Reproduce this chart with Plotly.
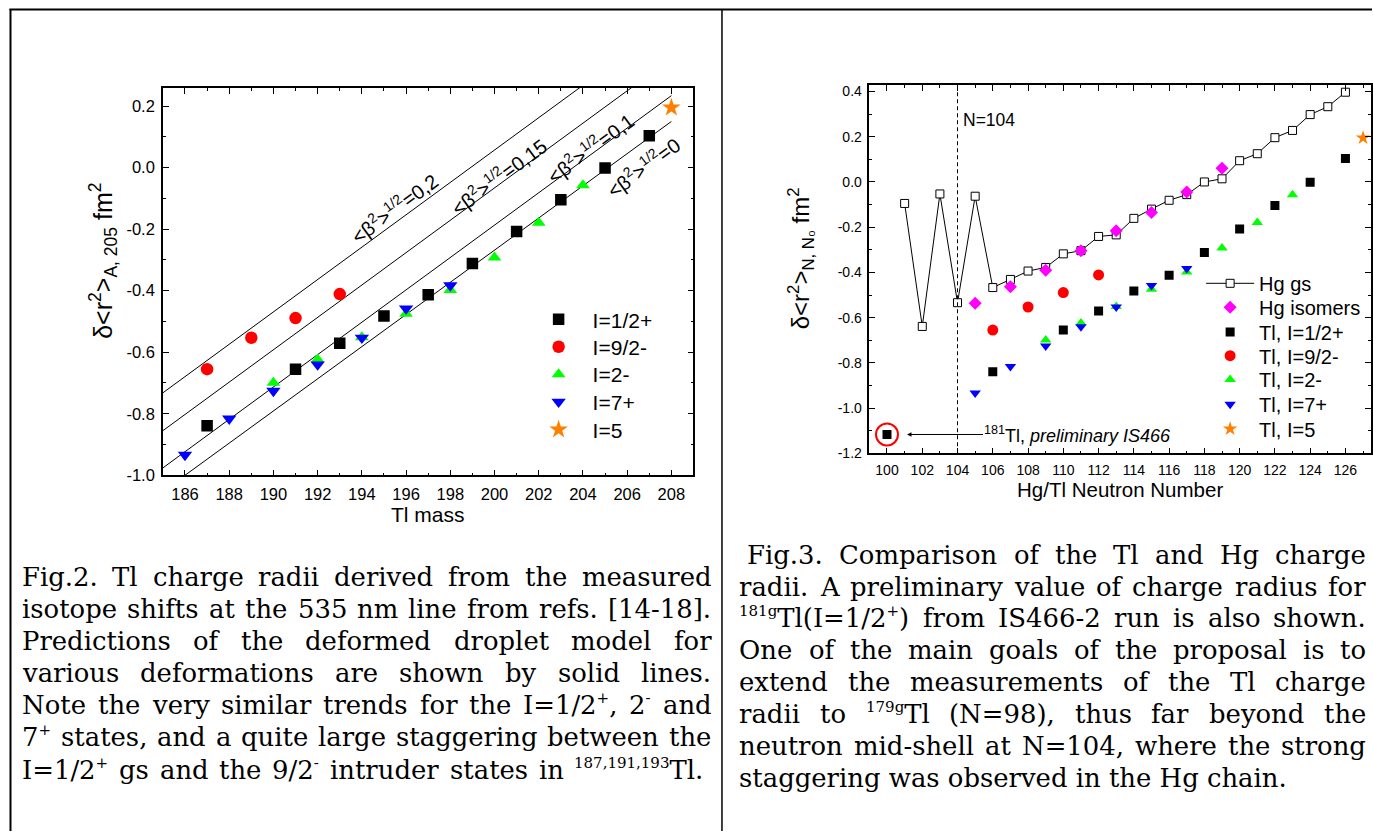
import re
import plotly.graph_objects as go

W, H = 1373, 840


def px(x):
    return x / W


def py(y):
    return 1 - y / H


# ---------------- data ----------------
Z_TL = 81  # proton number of Tl (N = A - Z)

tl_half_A = [187, 191, 193, 195, 197, 199, 201, 203, 205, 207]
tl_half_v = [-0.839, -0.655, -0.571, -0.482, -0.413, -0.312, -0.208, -0.104, -0.001, 0.104]
tl_92_A = [187, 189, 191, 193]
tl_92_v = [-0.655, -0.553, -0.489, -0.411]
tl_2m_A = [190, 192, 194, 196, 198, 200, 202, 204]
tl_2m_v = [-0.699, -0.624, -0.551, -0.475, -0.398, -0.292, -0.179, -0.057]
tl_7p_A = [186, 188, 190, 192, 194, 196, 198]
tl_7p_v = [-0.934, -0.816, -0.726, -0.640, -0.553, -0.458, -0.383]
tl_5_A = [208]
tl_5_v = [0.195]
tl181_A = [181]
tl181_v = [-1.117]

hg_gs_N = [101, 102, 103, 104, 105, 106, 107, 108, 109, 110, 111, 112, 113,
           114, 115, 116, 117, 118, 119, 120, 121, 122, 123, 124, 125, 126]
hg_gs_v = [-0.095, -0.639, -0.053, -0.534, -0.063, -0.467, -0.431, -0.394, -0.378,
           -0.318, -0.304, -0.241, -0.234, -0.161, -0.120, -0.081, -0.056, 0.000,
           0.014, 0.094, 0.125, 0.196, 0.228, 0.298, 0.333, 0.397]
hg_iso_N = [105, 107, 109, 111, 113, 115, 117, 119]
hg_iso_v = [-0.537, -0.463, -0.390, -0.304, -0.216, -0.135, -0.044, 0.061]

# deformed droplet model lines (<beta^2>^1/2 = 0.2, 0.15, 0.1, 0)
beta_names = ["0,2", "0,15", "0,1", "0"]
beta_x = [185, 208]
beta_y = [[-0.732, 0.478], [-0.855, 0.355], [-0.976, 0.234], [-1.0523, 0.150]]

left_x_ticks = [186, 188, 190, 192, 194, 196, 198, 200, 202, 204, 206, 208]
left_y_ticks = [-1.0, -0.8, -0.6, -0.4, -0.2, 0.0, 0.2]
left_y_text = ["-1.0", "-0.8", "-0.6", "-0.4", "-0.2", "0.0", "0.2"]
right_x_ticks = [100, 102, 104, 106, 108, 110, 112, 114, 116, 118, 120, 122, 124, 126]
right_y_ticks = [-1.2, -1.0, -0.8, -0.6, -0.4, -0.2, 0.0, 0.2, 0.4]
right_y_text = ["-1.2", "-1.0", "-0.8", "-0.6", "-0.4", "-0.2", "0.0", "0.2", "0.4"]

left_labels = ["I=1/2+", "I=9/2-", "I=2-", "I=7+", "I=5"]
right_labels = ["Hg gs", "Hg isomers", "Tl, I=1/2+", "Tl, I=9/2-", "Tl, I=2-", "Tl, I=7+", "Tl, I=5"]

left_caption = [
    "Fig.2. Tl charge radii derived from the measured",
    "isotope shifts at the 535 nm line from refs. [14-18].",
    "Predictions of the deformed droplet model for",
    "various deformations are shown by solid lines.",
    "Note the very similar trends for the I=1/2<sup>+</sup>, 2<sup>-</sup> and",
    "7<sup>+</sup> states, and a quite large staggering between the",
    "I=1/2<sup>+</sup> gs and the 9/2<sup>-</sup> intruder states in <sup>187,191,193</sup>Tl.",
]
right_caption = [
    "Fig.3. Comparison of the Tl and Hg charge",
    "radii. A preliminary value of charge radius for",
    "<sup>181g</sup>Tl(I=1/2<sup>+</sup>) from IS466-2 run is also shown.",
    "One of the main goals of the proposal is to",
    "extend the measurements of the Tl charge",
    "radii to <sup>179g</sup>Tl (N=98), thus far beyond the",
    "neutron mid-shell at N=104, where the strong",
    "staggering was observed in the Hg chain.",
]

# ---------------- styles ----------------
SANS = "Liberation Sans, Arial, sans-serif"
SERIF = "DejaVu Serif, serif"
BLACK = "#000000"

fig = go.Figure()

for nm, ys in zip(beta_names, beta_y):
    fig.add_trace(go.Scatter(x=beta_x, y=ys, mode="lines", line=dict(color=BLACK, width=1),
                             showlegend=False, hoverinfo="skip", xaxis="x", yaxis="y"))

tl_series = [
    (tl_half_A, tl_half_v, "square", "#000000"),
    (tl_92_A, tl_92_v, "circle", "#ff0000"),
    (tl_2m_A, tl_2m_v, "triangle-up", "#00ff00"),
    (tl_7p_A, tl_7p_v, "triangle-down", "#0000ff"),
    (tl_5_A, tl_5_v, "star", "#ff8000"),
]
# one legend per entry so that every row sits where the reference has it
left_leg_y = [322.5, 350.3, 378, 406, 434]
right_leg_y = [285.7, 310, 335, 359, 383, 408, 433]
legends = {}

left_sizes = [11.5, 12.5, 12, 12.5, 14]
for k, ((A, v, sym, col), lab, sz) in enumerate(zip(tl_series, left_labels, left_sizes)):
    lname = "legend" if k == 0 else "legend%d" % (k + 1)
    legends[lname] = dict(x=px(525), y=py(left_leg_y[k]), xanchor="left", yanchor="middle",
                          itemwidth=58, font=dict(family=SANS, size=21, color=BLACK),
                          bgcolor="rgba(0,0,0,0)", borderwidth=0)
    fig.add_trace(go.Scatter(x=A, y=v, mode="markers", name=lab,
                             marker=dict(symbol=sym, color=col, size=sz, line=dict(width=0)),
                             xaxis="x", yaxis="y", legend=lname))


def rlegend(k):
    lname = "legend%d" % (k + 6)
    legends[lname] = dict(x=px(1202), y=py(right_leg_y[k]), xanchor="left", yanchor="middle",
                          itemwidth=48, font=dict(family=SANS, size=20, color=BLACK),
                          bgcolor="rgba(0,0,0,0)", borderwidth=0)
    return lname


# right panel
fig.add_trace(go.Scatter(x=hg_gs_N, y=hg_gs_v, mode="lines+markers", name=right_labels[0],
                         line=dict(color=BLACK, width=1),
                         marker=dict(symbol="square", color="white", size=8,
                                     line=dict(color=BLACK, width=1)),
                         xaxis="x2", yaxis="y2", legend=rlegend(0)))
fig.add_trace(go.Scatter(x=hg_iso_N, y=hg_iso_v, mode="markers", name=right_labels[1],
                         marker=dict(symbol="diamond", color="#ff00ff", size=10, line=dict(width=0)),
                         xaxis="x2", yaxis="y2", legend=rlegend(1)))
right_sizes = [9, 11, 10, 10, 11]
for i, ((A, v, sym, col), sz) in enumerate(zip(tl_series, right_sizes)):
    N = [a - Z_TL for a in A]
    vv = list(v)
    if i == 0:
        N = [a - Z_TL for a in tl181_A] + N
        vv = list(tl181_v) + vv
    fig.add_trace(go.Scatter(x=N, y=vv, mode="markers", name=right_labels[i + 2],
                             marker=dict(symbol=sym, color=col, size=sz, line=dict(width=0)),
                             xaxis="x2", yaxis="y2", legend=rlegend(i + 2)))
# red ring around the preliminary 181Tl point
fig.add_trace(go.Scatter(x=[a - Z_TL for a in tl181_A], y=tl181_v, mode="markers", showlegend=False,
                         marker=dict(symbol="circle-open", color="#ff0000", size=22, line=dict(width=2)),
                         xaxis="x2", yaxis="y2", hoverinfo="skip"))


def axis(**kw):
    d = dict(showline=True, linecolor=BLACK, linewidth=1.5, mirror="allticks", ticks="inside",
             ticklen=6, tickwidth=1.2, tickcolor=BLACK, showgrid=False, zeroline=False,
             ticklabelstandoff=3)
    d.update(kw)
    return d


fig.update_layout(
    width=W, height=H, autosize=False,
    margin=dict(l=0, r=0, t=0, b=0, pad=0),
    paper_bgcolor="white", plot_bgcolor="white",
    font=dict(family=SANS, color=BLACK),
    xaxis=axis(domain=[px(163), px(694)], range=[185, 209], anchor="y",
               tickmode="array", tickvals=left_x_ticks,
               tickfont=dict(family=SANS, size=16.5, color=BLACK),
               minor=dict(ticks="inside", ticklen=3, tickwidth=1.2, tickcolor=BLACK,
                          tickmode="array", tickvals=[t + 1 for t in left_x_ticks])),
    yaxis=axis(domain=[py(480), py(88)], range=[-1.0, 0.259], anchor="x",
               tickmode="array", tickvals=left_y_ticks, ticktext=left_y_text,
               tickfont=dict(family=SANS, size=16.5, color=BLACK),
               minor=dict(ticks="inside", ticklen=3, tickwidth=1.2, tickcolor=BLACK,
                          tickmode="array", tickvals=[round(t + 0.1, 2) for t in left_y_ticks])),
    xaxis2=axis(domain=[px(870), px(1372)], range=[99, 127.45], anchor="y2",
                tickmode="array", tickvals=right_x_ticks,
                tickfont=dict(family=SANS, size=14, color=BLACK),
                minor=dict(ticks="inside", ticklen=3, tickwidth=1.2, tickcolor=BLACK,
                           tickmode="array", tickvals=[t + 1 for t in right_x_ticks])),
    yaxis2=axis(domain=[py(457.7), py(85)], range=[-1.2, 0.429], anchor="x2",
                tickmode="array", tickvals=right_y_ticks, ticktext=right_y_text,
                tickfont=dict(family=SANS, size=14, color=BLACK),
                minor=dict(ticks="inside", ticklen=3, tickwidth=1.2, tickcolor=BLACK,
                           tickmode="array", tickvals=[round(t + 0.1, 2) for t in right_y_ticks])),
)
fig.update_layout(**legends)

ann = []


def note(text, x, y, size, angle=0, xanchor="center", yanchor="middle", **kw):
    d = dict(text=text, x=x, y=y, xref="paper", yref="paper", showarrow=False, textangle=angle,
             xanchor=xanchor, yanchor=yanchor, font=dict(family=SANS, size=size, color=BLACK))
    d.update(kw)
    ann.append(d)


# beta line labels
beta_lab_pos = [(394, 209), (499, 177), (590, 148), (643, 167)]
for nm, (bx, by) in zip(beta_names, beta_lab_pos):
    note("&lt;β<sup>2</sup>&gt;<sup>1/2</sup>=" + nm, px(bx), py(by), 20, angle=-36.5)
# axis titles
note("δ&lt;r<sup>2</sup>&gt;<sub>A, 205</sub> fm<sup>2</sup>", px(103), py(263), 25, angle=-90)
note("Tl mass", px(428), py(520), 21)
note("δ&lt;r<sup>2</sup>&gt;<sub>N, N₀</sub> fm<sup>2</sup>", px(801), py(260), 24, angle=-90)
note("Hg/Tl Neutron Number", px(1121), py(494), 20.5)
# right panel notes
ann.append(dict(text="N=104", x=104.2, y=0.273, xref="x2", yref="y2", xanchor="left", yanchor="middle",
                showarrow=False, font=dict(family=SANS, size=17.5, color=BLACK)))
ann.append(dict(text="<sup>181</sup>Tl, <i>preliminary IS466</i>", x=100, y=tl181_v[0],
                xref="x2", yref="y2", showarrow=True, ax=191, ay=0, standoff=20,
                arrowhead=2, arrowsize=0.9, arrowwidth=1, arrowcolor=BLACK,
                font=dict(family=SANS, size=18, color=BLACK)))

# ---------------- captions (justified, word by word) ----------------
DV = {' ': .318, 'a': .596, 'b': .640, 'c': .560, 'd': .640, 'e': .592, 'f': .370, 'g': .640,
      'h': .644, 'i': .320, 'j': .310, 'k': .607, 'l': .320, 'm': .948, 'n': .644, 'o': .602,
      'p': .640, 'q': .640, 'r': .478, 's': .513, 't': .402, 'u': .644, 'v': .565, 'w': .856,
      'x': .564, 'y': .565, 'z': .527, '.': .318, ',': .318, '-': .338, '(': .390, ')': .390,
      '[': .390, ']': .390, '=': .838, '/': .337, '+': .838,
      'A': .722, 'B': .735, 'C': .765, 'D': .802, 'E': .730, 'F': .694, 'G': .799, 'H': .872,
      'I': .395, 'J': .401, 'K': .747, 'L': .664, 'M': 1.024, 'N': .875, 'O': .820, 'P': .673,
      'Q': .820, 'R': .753, 'S': .685, 'T': .667, 'U': .843, 'V': .722, 'W': 1.028, 'X': .712,
      'Y': .660, 'Z': .695}
for d in "0123456789":
    DV[d] = .636

CAP_SIZE = 25.9
SUP_SIZE = 15


def word_width(s, size):
    w = 0.0
    for part in re.split(r"(<sup>.*?</sup>)", s):
        if part.startswith("<sup>"):
            w += sum(DV.get(c, .6) for c in part[5:-6]) * SUP_SIZE
        else:
            w += sum(DV.get(c, .6) for c in part) * size
    return w


def small_sup(s):
    return re.sub(r"<sup>(.*?)</sup>",
                  lambda m: '<sup><span style="font-size:%dpx">%s</span></sup>' % (SUP_SIZE, m.group(1)), s)


def add_caption(lines, x0, x1, first_x0, bottom0, step, last_end=None):
    for k, line in enumerate(lines):
        yb = bottom0 + k * step
        left = first_x0 if k == 0 else x0
        words = line.split(" ")
        right = x1
        if k == len(lines) - 1:
            if last_end is None:
                ann.append(dict(text=small_sup(line), x=px(left), y=py(yb), xref="paper", yref="paper",
                                xanchor="left", yanchor="bottom", showarrow=False, borderpad=0,
                                font=dict(family=SERIF, size=CAP_SIZE, color=BLACK)))
                continue
            right = last_end
        widths = [word_width(w_, CAP_SIZE) for w_ in words]
        gap = (right - left - sum(widths)) / (len(words) - 1)
        xcur = left
        for w_, ww in zip(words, widths):
            ann.append(dict(text=small_sup(w_), x=px(xcur), y=py(yb), xref="paper", yref="paper",
                            xanchor="left", yanchor="bottom", showarrow=False, borderpad=0,
                            font=dict(family=SERIF, size=CAP_SIZE, color=BLACK)))
            xcur += ww + gap


add_caption(left_caption, 21, 711, 21, 599, 32.5, last_end=703)
add_caption(right_caption, 739, 1366, 747, 576.5, 32.25)

fig.update_layout(annotations=ann)

# frame lines and N=104 marker
shapes = [
    dict(type="line", xref="paper", yref="paper", x0=px(9.5), x1=1, y0=py(8.5), y1=py(8.5),
         line=dict(color=BLACK, width=2)),
    dict(type="line", xref="paper", yref="paper", x0=px(10.5), x1=px(10.5), y0=py(8), y1=0,
         line=dict(color=BLACK, width=2)),
    dict(type="line", xref="paper", yref="paper", x0=px(722.5), x1=px(722.5), y0=py(8), y1=0,
         line=dict(color=BLACK, width=1.5)),
    dict(type="line", xref="x2", yref="y2 domain", x0=104, x1=104, y0=0, y1=1,
         line=dict(color=BLACK, width=1, dash="4px,3px")),
]
fig.update_layout(shapes=shapes)

# the page's default body margin would shift the fixed-size figure by 8 px
fig.write_html("out.html", config={"displayModeBar": False},
               post_script="document.body.style.margin='0px';")
